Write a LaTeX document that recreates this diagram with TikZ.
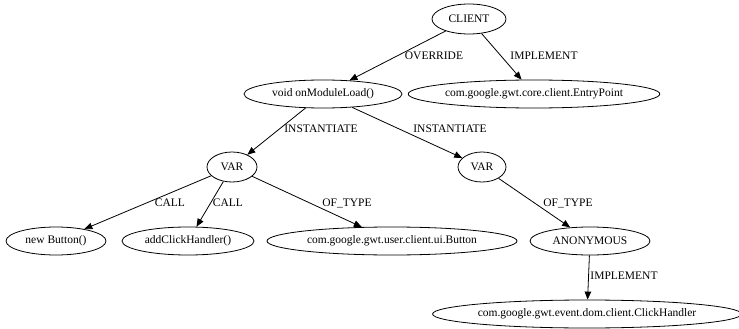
\documentclass[tikz,border=0pt]{standalone}
\usepackage{fontspec}
\setmainfont{Liberation Serif}
\usetikzlibrary{shapes.geometric,arrows.meta}
\begin{document}
\begin{tikzpicture}[x=1pt,y=-1pt,
  nd/.style={ellipse,draw,line width=0.8pt,inner sep=0pt,font=\fontsize{11.5}{13}\selectfont},
  lbl/.style={inner sep=0pt,font=\fontsize{11.5}{13}\selectfont},
  edge/.style={line width=0.8pt,-{Triangle[length=8pt,width=6.5pt]}}]
\useasboundingbox (0,0) rectangle (739,329);
\node[nd,minimum width=74pt,minimum height=30pt] (client) at (469,19) {CLIENT};
\node[nd,minimum width=158pt,minimum height=28pt] (void) at (323,94) {void onModuleLoad()};
\node[nd,minimum width=242pt,minimum height=28pt] (entry) at (534,94) {com.google.gwt.core.client.EntryPoint};
\node[nd,minimum width=50pt,minimum height=30pt] (var1) at (232,167) {VAR};
\node[nd,minimum width=48pt,minimum height=30pt] (var2) at (482,167) {VAR};
\node[nd,minimum width=100pt,minimum height=28pt] (newbtn) at (56,241) {new Button()};
\node[nd,minimum width=132pt,minimum height=28pt] (addch) at (188,241) {addClickHandler()};
\node[nd,minimum width=250pt,minimum height=28pt] (btntype) at (392,241) {com.google.gwt.user.client.ui.Button};
\node[nd,minimum width=120pt,minimum height=28pt] (anon) at (590,241) {ANONYMOUS};
\node[nd,minimum width=302pt,minimum height=28pt] (clickh) at (587,314) {com.google.gwt.event.dom.client.ClickHandler};
\draw[edge] (client) -- (void);
\draw[edge] (client) -- (entry);
\draw[edge] (void) -- (var1);
\draw[edge] (void) -- (var2);
\draw[edge] (var1) -- (newbtn);
\draw[edge] (var1) -- (addch);
\draw[edge] (var1) -- (btntype);
\draw[edge] (var2) -- (anon);
\draw[edge] (anon) -- (clickh);
\node[lbl] (l1) at (434,56) {OVERRIDE};
\node[lbl] (l2) at (544,56) {IMPLEMENT};
\node[lbl] (l3) at (321,129) {INSTANTIATE};
\node[lbl] (l4) at (450,129) {INSTANTIATE};
\node[lbl] (l5) at (170,203) {CALL};
\node[lbl] (l6) at (228,203) {CALL};
\node[lbl] (l7) at (347,203) {OF\_TYPE};
\node[lbl] (l8) at (568,203) {OF\_TYPE};
\node[lbl] (l9) at (624,276) {IMPLEMENT};
\end{tikzpicture}
\end{document}
